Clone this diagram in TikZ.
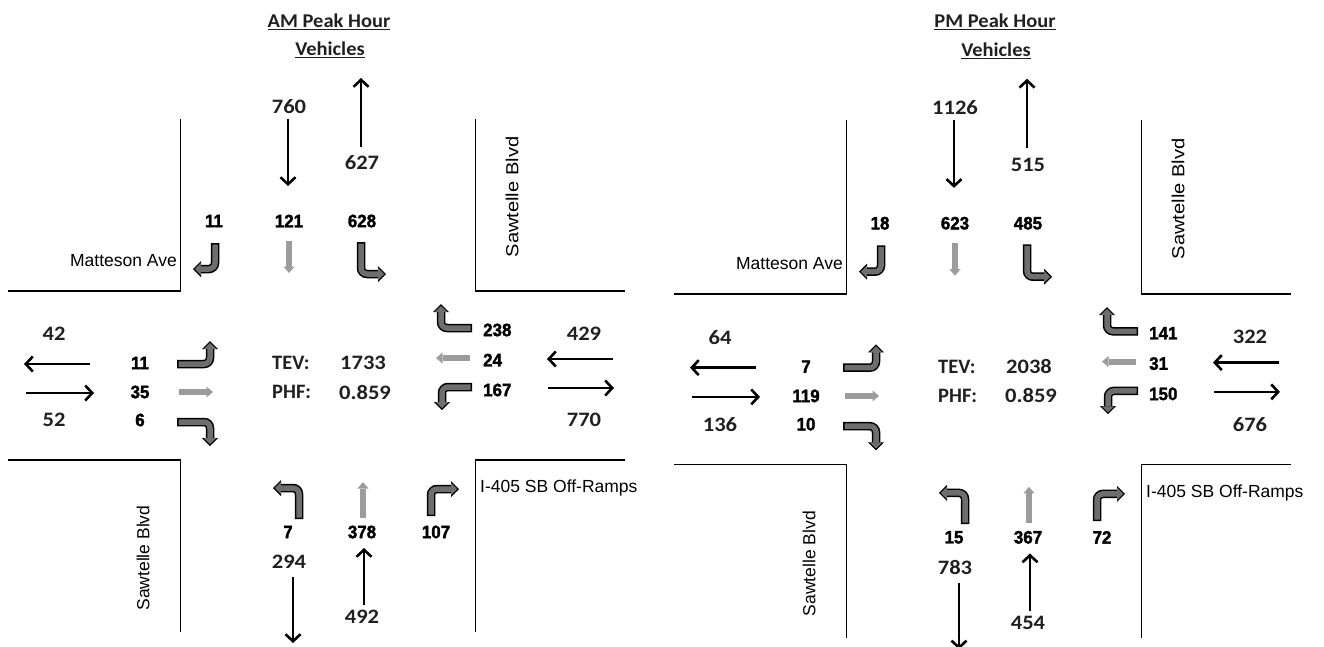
\documentclass[tikz,border=0pt]{standalone}
\usepackage{fontspec}
\usepackage{graphicx}
\setmainfont{Liberation Sans}
\newfontfamily\calfont{Carlito}
\newfontfamily\numfont[FakeStretch=0.94,BoldFeatures={FakeBold=1.8}]{Liberation Sans}
\usetikzlibrary{arrows.meta}
\definecolor{tgray}{HTML}{6E6E6E}
\definecolor{lgray}{HTML}{9C9C9C}
\definecolor{labc}{HTML}{202020}
\newcommand\stretchx[1]{\scalebox{1.1}[1]{#1}}
\newcommand\turn[1]{\draw[tb] #1; \draw[tg] #1;}
\tikzset{
 road/.style={line width=1.5pt},
 blk/.style={line width=2.6pt, -{Straight Barb[length=7pt,width=15pt]}},
 tb/.style={line width=8.5pt, rounded corners=6pt, -{Triangle[length=8pt,width=16pt,line width=0pt]}},
 tg/.style={line width=5.5pt, tgray, rounded corners=6pt, shorten >=1.8pt, shorten <=1.5pt, -{Triangle[length=6pt,width=12pt,line width=0pt]}},
 thr/.style={line width=6pt, lgray, -{Triangle[length=6.5pt,width=11pt,line width=0pt]}},
 num/.style={inner sep=0pt, font=\numfont\fontsize{18}{18}\selectfont\bfseries},
 lab/.style={inner sep=0pt, text=labc, font=\calfont\fontsize{20.5}{20.5}\selectfont\bfseries},
 ttl/.style={inner sep=0pt, text=labc, font=\calfont\fontsize{19.5}{19.5}\selectfont\bfseries},
 st/.style={inner sep=0pt, font=\fontsize{17.5}{17.5}\selectfont},
}
\newcommand\panel[1]{%
 \node[ttl] (#1ti) at (329,22) {\scalebox{1.05}[1]{\underline{\PTitle\ Peak Hour}}};
 \node[ttl] (#1tv) at (330,50) {\scalebox{1.05}[1]{\underline{Vehicles}}};
 % roads
 \draw[road] (180.5,119) -- (180.5,291) -- (8,291);
 \draw[road] (475.5,119) -- (475.5,291) -- (625,291);
 \draw[road] (8,460) -- (180.5,460) -- (180.5,632);
 \draw[road] (625,460) -- (475.5,460) -- (475.5,632);
 \node[st, anchor=east] (#1mat) at (177,261) {Matteson Ave};
 \node[st, rotate=90] (#1saw1) at (512,197) {\scalebox{1.15}[1]{Sawtelle Blvd}};
 \node[st, rotate=90] (#1saw2) at (143,558) {Sawtelle Blvd};
 \node[st, anchor=west] (#1ramp) at (480,488) {I-405 SB Off-Ramps};
 % north leg
 \node[lab] (#1sbin) at (289,107) {\stretchx{\vSBin}};
 \draw[blk] (288,119) -- (288,186);
 \draw[blk] (361,147) -- (361,78);
 \node[lab] (#1nbout) at (362,163) {\stretchx{\vNBout}};
 \node[num] (#1sbr) at (214,221) {\vSBR};
 \node[num] (#1sbt) at (289,221) {\vSBT};
 \node[num] (#1sbl) at (362,221) {\vSBL};
 \turn{(215,243) -- (215,269) -- (193,269)}
 \draw[thr] (289,241) -- (289,273);
 \turn{(361,242) -- (361,274) -- (386,274)}
 % west leg
 \node[lab] (#1ebout) at (54,334) {\stretchx{\vEBout}};
 \draw[blk] (90,364) -- (24,364);
 \draw[blk] (26,393) -- (94,393);
 \node[lab] (#1ebin) at (54,420) {\stretchx{\vEBin}};
 \node[num] (#1ebl) at (140,363) {\vEBL};
 \node[num] (#1ebt) at (140,392) {\vEBT};
 \node[num] (#1ebr) at (140,420) {\vEBR};
 \turn{(177,364) -- (210,364) -- (210,341)}
 \draw[thr] (179,392) -- (213,392);
 \turn{(177,422) -- (210,422) -- (210,446)}
 % centre
 \node[lab, anchor=west] (#1tev) at (272,363) {TEV:};
 \node[lab] (#1tevv) at (363,363) {\stretchx{\vTEV}};
 \node[lab, anchor=west] (#1phf) at (272,392) {PHF:};
 \node[lab] (#1phfv) at (365,392) {\stretchx{\vPHF}};
 % east leg
 \node[num, anchor=west] (#1wbr) at (483,330) {\vWBR};
 \node[num, anchor=west] (#1wbt) at (483,360) {\vWBT};
 \node[num, anchor=west] (#1wbl) at (483,390) {\vWBL};
 \turn{(472,328) -- (441,328) -- (441,304)}
 \draw[thr] (470,358) -- (436,358);
 \turn{(472,387) -- (442,387) -- (442,410)}
 \node[lab] (#1wbin) at (584,334) {\stretchx{\vWBin}};
 \draw[blk] (613,359) -- (547,359);
 \draw[blk] (548,388) -- (614,388);
 \node[lab] (#1wbout) at (584,420) {\stretchx{\vWBout}};
 % south leg
 \turn{(299,519) -- (299,488) -- (273,488)}
 \draw[thr] (363,518) -- (363,482);
 \turn{(431,516) -- (431,489) -- (459,489)}
 \node[num] (#1nbl) at (288,532) {\vNBL};
 \node[num] (#1nbt) at (362,532) {\vNBT};
 \node[num] (#1nbr) at (436,532) {\vNBR};
 \node[lab] (#1sbout) at (289,562) {\stretchx{\vSBout}};
 \draw[blk] (293,577) -- (293,643);
 \draw[blk] (364,605) -- (364,548);
 \node[lab] (#1nbin) at (362,617) {\stretchx{\vNBin}};
}
\begin{document}
\begin{tikzpicture}[x=1pt,y=-1pt]
\useasboundingbox (0,0) rectangle (1324,646);
\def\PTitle{AM}
\def\vSBin{760}\def\vNBout{627}
\def\vSBR{11}\def\vSBT{121}\def\vSBL{628}
\def\vEBout{42}\def\vEBin{52}
\def\vEBL{11}\def\vEBT{35}\def\vEBR{6}
\def\vTEV{1733}\def\vPHF{0.859}
\def\vWBR{238}\def\vWBT{24}\def\vWBL{167}
\def\vWBin{429}\def\vWBout{770}
\def\vNBL{7}\def\vNBT{378}\def\vNBR{107}
\def\vSBout{294}\def\vNBin{492}
\panel{am}
\begin{scope}[shift={(666,0)}, yscale=1.01]
\def\PTitle{PM}
\def\vSBin{1126}\def\vNBout{515}
\def\vSBR{18}\def\vSBT{623}\def\vSBL{485}
\def\vEBout{64}\def\vEBin{136}
\def\vEBL{7}\def\vEBT{119}\def\vEBR{10}
\def\vTEV{2038}\def\vPHF{0.859}
\def\vWBR{141}\def\vWBT{31}\def\vWBL{150}
\def\vWBin{322}\def\vWBout{676}
\def\vNBL{15}\def\vNBT{367}\def\vNBR{72}
\def\vSBout{783}\def\vNBin{454}
\panel{pm}
\end{scope}
\end{tikzpicture}
\end{document}
